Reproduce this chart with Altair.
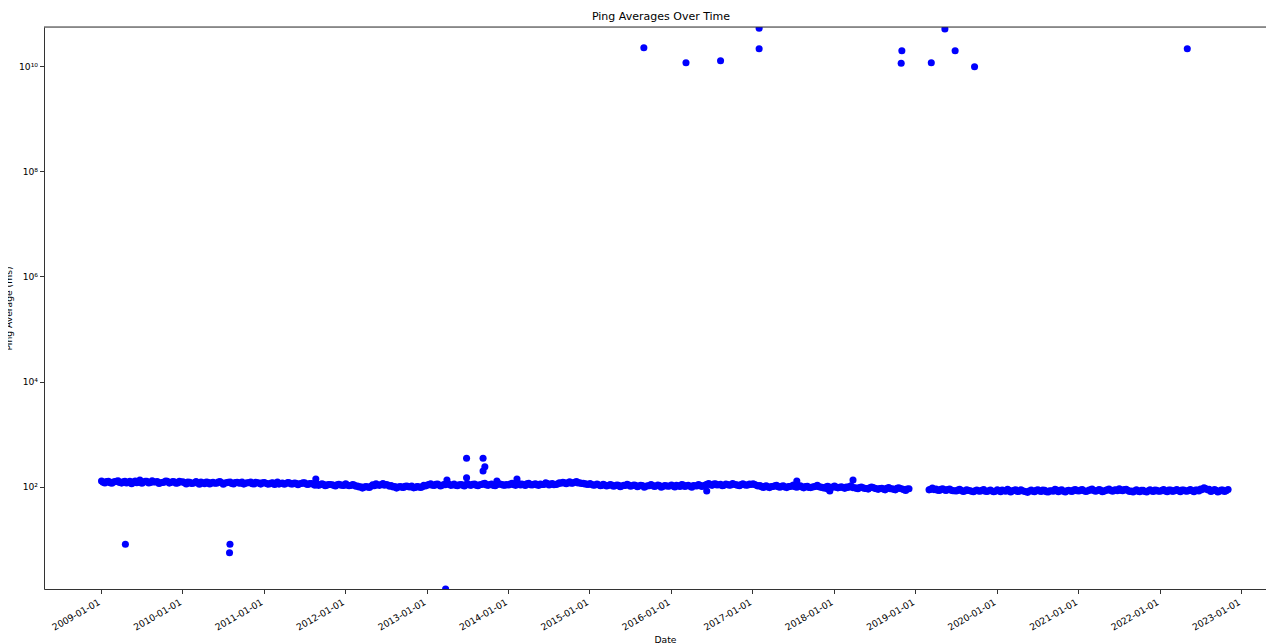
import altair as alt
import pandas as pd

# Regular readings, ms. First set taken on the 4th and 19th of each month,
# second set on the 11th and 26th.
band_a = {
    2009: [128,118,126,116,124,130,117,127,121,114,128,121,116,126,118,129,123,115,120,128,117,125,116,126],
    2010: [124,113,121,116,125,111,119,123,113,121,116,125,111,119,123,113,121,116,112,119,123,113,119,112],
    2011: [120,112,117,110,122,115,111,120,113,117,109,115,119,110,115,107,106,113,104,110,109,103,111,107],
    2012: [113,104,110,102,99,94,101,97,109,113,106,115,110,102,99,94,101,97,103,99,95,101,97,106],
    2013: [107,114,105,112,103,110,116,106,112,104,110,103,114,106,112,104,110,116,106,112,104,114,110,107],
    2014: [108,116,106,114,112,105,116,108,114,106,110,118,108,115,110,118,121,114,124,117,125,119,116,112],
    2015: [115,107,112,104,111,103,110,102,108,100,106,111,102,108,100,106,98,104,110,101,107,98,105,102],
    2016: [108,99,104,110,101,106,98,104,110,101,108,115,106,114,109,104,112,107,115,109,104,113,107,112],
    2017: [114,106,105,97,104,96,101,106,98,104,96,101,107,98,104,95,102,96,100,106,98,94,102,96],
    2018: [103,95,100,93,97,104,95,91,99,93,90,98,93,89,93,87,96,91,87,95,90,85,91],
    2019: [87,94,90,85,91,85,90,84,83,89,81,87,84,80,86,82,88,81,86,80],
    2020: [87,80,84,89,79,85,81,87,82,78,86,80,87,81,85,79,84,89,80,87,79,85,81,88],
    2021: [83,88,81,86,90,82,88,80,85,90,82,87,91,84,89,81,79,87,80,85,79,87,81,85],
    2022: [82,88,80,86,82,88,80,86,82,88,80,86,90,95,87,81,88,79,86,81,88],
}
band_b = {
    2009: [121,125,119,123,127,120,124,118,126,122,119,124,121,127,120,123,125,119,122,126,120,124,118,123],
    2010: [119,122,115,120,117,123,114,121,118,116,122,119,117,121,115,120,118,123,116,119,114,121,117,118],
    2011: [116,113,118,114,112,117,115,119,113,116,114,118,112,115,111,113,109,111,107,110,106,109,108,105],
    2012: [108,105,107,103,100,98,99,102,104,108,110,107,108,105,101,99,98,102,100,103,97,100,99,103],
    2013: [110,107,111,108,106,109,111,108,106,109,107,110,108,111,107,109,113,108,110,106,109,112,107,110],
    2014: [112,109,111,108,110,113,109,111,108,112,110,115,112,109,113,116,118,119,116,121,118,115,113,110],
    2015: [110,108,109,106,108,105,107,104,106,103,105,108,104,106,103,105,102,104,106,103,105,101,104,103],
    2016: [103,106,101,107,104,102,105,103,106,104,111,109,112,108,111,106,110,108,111,107,110,109,108,110],
    2017: [110,103,100,102,99,101,104,100,102,99,101,103,100,102,99,101,97,99,102,100,96,98,99,98],
    2018: [98,97,96,98,100,96,94,96,95,92,95,96,91,92,90,93,91,89,93,92,88,90],
    2019: [89,88,86,89,87,88,86,84,86,85,83,85,82,84,83,85,82,84,83,82],
    2020: [84,86,82,85,83,87,82,84,80,83,82,85,83,86,80,84,82,86,85,82,84,83,86,84],
    2021: [86,84,83,87,85,84,86,82,87,85,86,84,86,88,85,83,84,82,85,81,84,83,86,82],
    2022: [85,83,86,82,85,84,86,83,85,84,86,83,88,92,89,84,85,82,86,84],
}
# first reading slot of each year (2019 resumes in March after the gap)
band_start_slot = {2019: 4}
days_a = [4, 19]
days_b = [11, 26]

# Irregular readings / outliers
extra_dates = [
    "2009-04-21", "2010-08-03", "2010-08-01", "2013-03-27",
    "2013-06-29", "2013-06-29", "2013-09-11", "2013-09-11", "2013-09-19",
    "2015-09-02", "2016-03-09", "2016-08-11", "2017-01-31", "2017-01-31",
    "2018-11-02", "2018-10-30", "2019-03-14", "2019-05-14", "2019-06-29",
    "2019-09-24", "2022-05-05",
    "2009-06-25", "2011-08-23", "2013-04-02", "2013-11-12", "2014-02-10",
    "2016-06-10", "2017-07-19", "2017-12-14", "2018-03-28", "2017-12-05",
]
extra_values = [
    8.03, 8.03, 5.56, 1.133,
    347, 148, 347, 199, 240,
    2.23e10, 1.155e10, 1.26e10, 5.21e10, 2.13e10,
    1.95e10, 1.125e10, 1.155e10, 5.06e10, 1.95e10,
    9.7e9, 2.13e10,
    134, 140, 134, 128, 140,
    83, 128, 83, 134, 90,
]

tick_years = list(range(2009, 2024))
y_tick_values = [1e2, 1e4, 1e6, 1e8, 1e10]

rows = []
for band, days in ((band_a, days_a), (band_b, days_b)):
    for year, vals in band.items():
        slots = [(m, d) for m in range(1, 13) for d in days]
        start = band_start_slot.get(year, 0)
        for (m, d), v in zip(slots[start:], vals):
            rows.append({"date": f"{year}-{m:02d}-{d:02d}", "value": v})
for d, v in zip(extra_dates, extra_values):
    rows.append({"date": d, "value": v})
df = pd.DataFrame(rows)

FONT = "DejaVu Sans"
PLOT_W = 1222
PLOT_H = 562

x_axis = alt.Axis(
    values=[alt.DateTime(year=y, month=1, date=1, utc=True) for y in tick_years],
    labelExpr="utcFormat(datum.value, '%Y-%m-%d')",
    labelAngle=330, labelAlign="right", labelBaseline="top",
    labelOffset=-4, labelPadding=4, labelOverlap=False, labelFlush=False,
    labelFont=FONT, labelFontSize=9.2, labelColor="#000000",
    tickSize=4.5, tickColor="#333333", domainColor="#333333",
    grid=False, title="Date", titleFont=FONT, titleFontSize=9.2,
    titleFontWeight="normal", titleColor="#000000",
    titleX=621, titleY=53, titleAlign="center", titleBaseline="alphabetic",
)

y_axis = alt.Axis(
    values=y_tick_values,
    labelExpr="'10' + (round(log(datum.value)/LN10) == 10 ? '¹⁰' : round(log(datum.value)/LN10) == 8 ? '⁸' : round(log(datum.value)/LN10) == 6 ? '⁶' : round(log(datum.value)/LN10) == 4 ? '⁴' : '²')",
    labelFont=FONT, labelFontSize=9.2, labelColor="#000000", labelPadding=2,
    tickSize=4.5, tickColor="#333333", domainColor="#333333",
    grid=False, title="Ping Average (ms)", titleFont=FONT, titleFontSize=9.2,
    titleFontWeight="normal", titleColor="#000000",
    titleAngle=270, titleX=-33, titleY=281, titleAlign="center",
    titleBaseline="alphabetic",
)

points = alt.Chart(df).mark_circle(size=50, color="#0000ff", opacity=1, clip=True).encode(
    x=alt.X("date:T", axis=x_axis,
            scale=alt.Scale(type="utc", nice=False,
                            domain=[alt.DateTime(year=2008, month=4, date=21, utc=True),
                                    alt.DateTime(year=2023, month=4, date=23, utc=True)])),
    y=alt.Y("value:Q", axis=y_axis,
            scale=alt.Scale(type="log", nice=False, domain=[1.133, 5.52e10])),
)

top_frame = alt.Chart(pd.DataFrame({"k": [0]})).mark_rule(color="#333333", strokeWidth=1).encode(
    x=alt.value(0), x2=alt.value(PLOT_W), y=alt.value(0)
)

chart = alt.layer(points, top_frame).properties(
    width=PLOT_W, height=PLOT_H,
    title=alt.TitleParams("Ping Averages Over Time", font=FONT, fontSize=11,
                          fontWeight="normal", color="#000000", anchor="middle",
                          frame="group", offset=6, baseline="alphabetic", dx=6, dy=10),
    autosize=alt.AutoSizeParams(type="none"),
    padding={"left": 36, "top": 19, "right": 0, "bottom": 55},
).configure_view(stroke="transparent").configure(background="white")

chart.save("out.html", embed_options={"renderer": "svg", "actions": False})
